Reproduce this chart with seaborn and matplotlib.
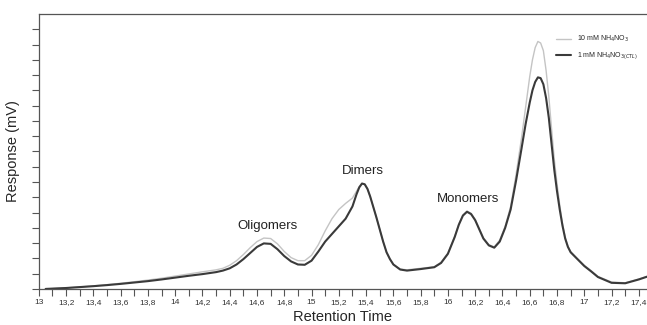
import numpy as np
import pandas as pd
import matplotlib
matplotlib.use("Agg")
import matplotlib.pyplot as plt
import seaborn as sns

# retention time (min)
rt = [13.05, 13.1, 13.2, 13.3, 13.4, 13.5, 13.6, 13.7, 13.8, 13.9, 14.0, 14.1, 14.2, 14.3, 14.35,
      14.4, 14.45, 14.5, 14.55, 14.6, 14.65, 14.7, 14.75, 14.8, 14.85, 14.9, 14.95, 15.0, 15.05,
      15.1, 15.15, 15.2, 15.25, 15.3, 15.33, 15.35, 15.37, 15.39, 15.41, 15.43, 15.45, 15.475,
      15.5, 15.525, 15.55, 15.575, 15.6, 15.65, 15.7, 15.8, 15.9, 15.95, 16.0, 16.05, 16.08,
      16.11, 16.14, 16.17, 16.2, 16.23, 16.26, 16.3, 16.34, 16.38, 16.42, 16.46, 16.5, 16.54,
      16.57, 16.6, 16.62, 16.64, 16.66, 16.68, 16.7, 16.72, 16.74, 16.76, 16.78, 16.8, 16.82,
      16.84, 16.86, 16.88, 16.9, 16.95, 17.0, 17.05, 17.1, 17.2, 17.3, 17.4, 17.46]

# 1 mM NH4NO3 (control) - dark trace
resp_ctl = [0.0, 0.02, 0.06, 0.12, 0.18, 0.25, 0.33, 0.42, 0.51, 0.62, 0.74, 0.86, 0.97, 1.1, 1.2,
            1.35, 1.6, 1.95, 2.35, 2.75, 2.98, 2.95, 2.6, 2.15, 1.8, 1.6, 1.58, 1.85, 2.45,
            3.1, 3.6, 4.1, 4.6, 5.4, 6.2, 6.65, 6.9, 6.85, 6.55, 6.05, 5.45, 4.7,
            3.9, 3.1, 2.4, 1.95, 1.6, 1.27, 1.2, 1.3, 1.42, 1.7, 2.3, 3.4, 4.2,
            4.8, 5.05, 4.9, 4.5, 3.9, 3.3, 2.85, 2.7, 3.1, 4.0, 5.2, 7.1, 9.2,
            10.8, 12.2, 13.0, 13.55, 13.85, 13.8, 13.4, 12.5, 11.2, 9.5, 7.8, 6.4, 5.2,
            4.15, 3.3, 2.75, 2.4, 1.95, 1.5, 1.15, 0.78, 0.4, 0.37, 0.62, 0.8]

# 10 mM NH4NO3 - light trace
resp_10 = [0.0, 0.02, 0.07, 0.13, 0.2, 0.28, 0.37, 0.47, 0.58, 0.7, 0.84, 0.98, 1.12, 1.25, 1.35,
           1.55, 1.85, 2.25, 2.7, 3.1, 3.33, 3.3, 2.95, 2.45, 2.05, 1.85, 1.85, 2.2, 2.9,
           3.8, 4.6, 5.2, 5.6, 5.95, 6.4, 6.7, 6.9, 6.85, 6.55, 6.05, 5.45, 4.7,
           3.9, 3.1, 2.4, 1.95, 1.6, 1.3, 1.25, 1.35, 1.45, 1.75, 2.35, 3.45, 4.25,
           4.85, 5.1, 4.95, 4.55, 3.95, 3.35, 2.9, 2.75, 3.2, 4.1, 5.4, 7.5, 9.9,
           11.9, 13.9, 15.0, 15.8, 16.2, 16.1, 15.6, 14.3, 12.6, 10.5, 8.5, 6.9, 5.5,
           4.3, 3.4, 2.8, 2.45, 1.98, 1.55, 1.2, 0.82, 0.45, 0.4, 0.65, 0.82]

peak_names = ["Oligomers", "Dimers", "Monomers"]
peak_rt = [14.68, 15.38, 16.15]
peak_label_y = [4.1, 7.7, 5.9]

df = pd.DataFrame({"rt": rt, "ctl": resp_ctl, "high": resp_10})

sns.set_style("ticks")
plt.rcParams["font.family"] = ["Liberation Sans", "DejaVu Sans"]

fig = plt.figure(figsize=(6.47, 3.25), dpi=100)
ax = fig.add_axes([0.060, 0.111, 0.94, 0.846])

sns.lineplot(data=df, x="rt", y="high", ax=ax, color="#c4c4c4", linewidth=1.0,
             label="10 mM NH$_4$NO$_3$")
sns.lineplot(data=df, x="rt", y="ctl", ax=ax, color="#3a3a3a", linewidth=1.5,
             label="1 mM NH$_4$NO$_{3(CTL)}$")

for name, x, y in zip(peak_names, peak_rt, peak_label_y):
    ax.text(x, y, name, ha="center", va="center", fontsize=9.5, color="#222222")

ax.set_xlim(13, 17.46)
ax.set_ylim(0, 18)
xt = np.round(np.arange(13, 17.41, 0.2), 1)
ax.set_xticks(xt)
ax.set_xticklabels([("%g" % v).replace(".", ",") for v in xt], fontsize=6, color="#333333")
ax.set_xticks(np.round(np.arange(13.1, 17.41, 0.2), 1), minor=True)
ax.set_yticks(np.arange(0, 18, 1))
ax.set_yticklabels([])
ax.tick_params(axis="both", which="both", direction="out", length=5, width=0.8, color="#555555")
ax.tick_params(axis="x", pad=2)

for side in ["left", "bottom", "top"]:
    ax.spines[side].set_color("#555555")
    ax.spines[side].set_linewidth(0.9)
    ax.spines[side].set_visible(True)
ax.spines["right"].set_visible(False)

ax.set_xlabel("Retention Time", fontsize=10.5, labelpad=3)
ax.set_ylabel("Response (mV)", fontsize=10.5)
ax.yaxis.set_label_coords(-0.031, 0.5)

leg = ax.legend(loc="upper right", bbox_to_anchor=(0.995, 0.95), frameon=False, fontsize=5,
                handlelength=2.2, labelspacing=0.9)

fig.savefig("out.png", dpi=100)
